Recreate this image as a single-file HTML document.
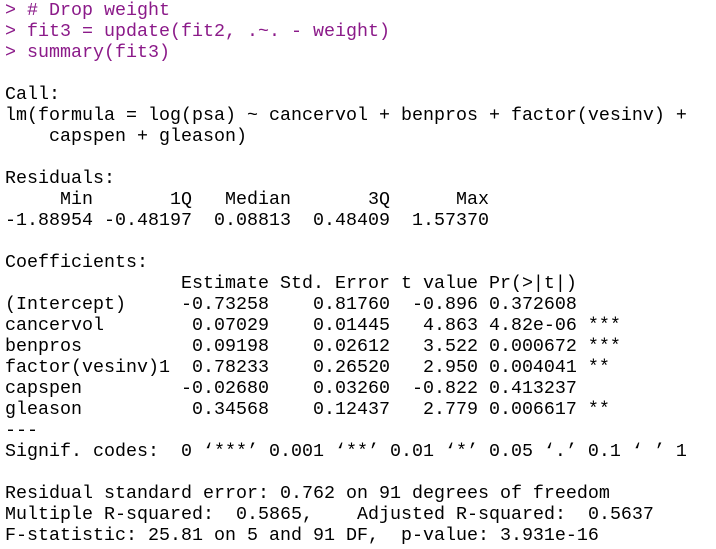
<!DOCTYPE html>
<html><head><meta charset="utf-8"><style>
html,body{margin:0;padding:0;background:#fff;width:716px;height:549px;overflow:hidden}
pre{margin:0;position:absolute;left:5px;top:0;font-family:"Liberation Mono",monospace;font-size:18.33px;line-height:21px;color:#000;white-space:pre}
.c{color:#8b1a89}
</style></head><body>
<pre><span class="c">&gt; # Drop weight</span>
<span class="c">&gt; fit3 = update(fit2, .~. - weight)</span>
<span class="c">&gt; summary(fit3)</span>

Call:
lm(formula = log(psa) ~ cancervol + benpros + factor(vesinv) + 
    capspen + gleason)

Residuals:
     Min       1Q   Median       3Q      Max 
-1.88954 -0.48197  0.08813  0.48409  1.57370 

Coefficients:
                Estimate Std. Error t value Pr(&gt;|t|)    
(Intercept)     -0.73258    0.81760  -0.896 0.372608    
cancervol        0.07029    0.01445   4.863 4.82e-06 ***
benpros          0.09198    0.02612   3.522 0.000672 ***
factor(vesinv)1  0.78233    0.26520   2.950 0.004041 ** 
capspen         -0.02680    0.03260  -0.822 0.413237    
gleason          0.34568    0.12437   2.779 0.006617 ** 
---
Signif. codes:  0 ‘***’ 0.001 ‘**’ 0.01 ‘*’ 0.05 ‘.’ 0.1 ‘ ’ 1

Residual standard error: 0.762 on 91 degrees of freedom
Multiple R-squared:  0.5865,	Adjusted R-squared:  0.5637 
F-statistic: 25.81 on 5 and 91 DF,  p-value: 3.931e-16
</pre>
</body></html>
